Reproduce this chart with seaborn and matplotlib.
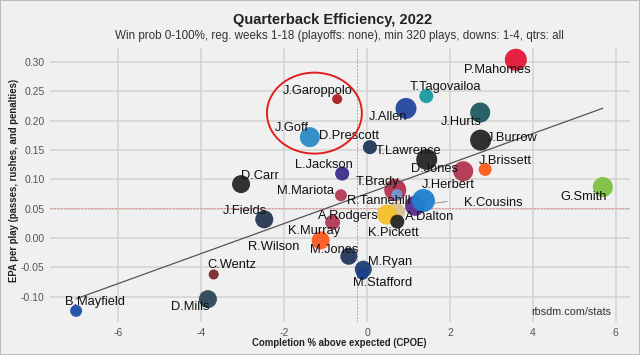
import numpy as np
import pandas as pd
import matplotlib
matplotlib.use("Agg")
import matplotlib.pyplot as plt
from matplotlib.patches import Ellipse
import seaborn as sns

# ---- data ----
players = ["P.Mahomes", "T.Tagovailoa", "J.Allen", "J.Hurts", "J.Burrow", "J.Garoppolo",
           "D.Prescott", "J.Goff", "T.Lawrence", "L.Jackson", "D.Jones", "T.Brady", "R.Tannehill",
           "K.Cousins", "J.Herbert", "M.Mariota", "A.Dalton", "A.Rodgers", "K.Pickett",
           "K.Murray", "R.Wilson", "M.Jones", "M.Ryan", "M.Stafford", "J.Brissett",
           "G.Smith", "D.Carr", "J.Fields", "C.Wentz", "D.Mills", "B.Mayfield"]
cpoe = [3.59, 1.43, 0.94, 2.73, 2.74, -0.72,
        0.07, -1.38, 1.44, -0.60, 2.32, 0.68, 0.72,
        1.16, 1.36, -0.63, 0.70, 0.48, 0.73,
        -0.83, -1.12, -0.44, -0.09, -0.11, 2.85,
        5.69, -3.04, -2.48, -3.70, -3.84, -7.02]
epa = [0.304, 0.242, 0.221, 0.214, 0.167, 0.237,
       0.155, 0.172, 0.134, 0.110, 0.114, 0.082, 0.074,
       0.055, 0.064, 0.073, 0.045, 0.040, 0.028,
       0.027, -0.004, -0.031, -0.053, -0.061, 0.117,
       0.087, 0.092, 0.032, -0.062, -0.104, -0.124]
plays = [752, 436, 704, 660, 704, 330,
         436, 660, 704, 436, 660, 752, 353,
         660, 800, 378, 576, 660, 436,
         467, 576, 537, 537, 378, 405,
         660, 576, 576, 330, 576, 378]
team_colors = ["#E31837", "#1A9BA3", "#2347A0", "#1E5A60", "#262626", "#B01E22",
               "#22395A", "#2B8AC6", "#262626", "#3E2D8A", "#B23550", "#B5304E", "#6E9AD8",
               "#5B2C8F", "#1F7FD0", "#B23A55", "#D9C08E", "#F5C02A", "#262626",
               "#B23A55", "#FB5A1E", "#22395A", "#1E3F75", "#1C3F8F", "#FF5A1A",
               "#7CC142", "#262626", "#253650", "#7A2A2A", "#2C4658", "#1E4FA8"]
x_ticks = [-6, -4, -2, 0, 2, 4, 6]
y_ticks = [-0.10, -0.05, 0.00, 0.05, 0.10, 0.15, 0.20, 0.25, 0.30]
mean_cpoe = -0.25
mean_epa = 0.051

# label offsets from each point, in pixels (right, down)
label_offsets = {
    "P.Mahomes": (-19, 10), "T.Tagovailoa": (19, -9), "J.Allen": (-18, 9), "J.Hurts": (-19, 9),
    "J.Burrow": (32, -2), "J.Garoppolo": (-19, -8), "D.Prescott": (-21, -11), "J.Goff": (-18, -9),
    "T.Lawrence": (-18, -8), "L.Jackson": (-18, -9), "D.Jones": (-29, -2), "T.Brady": (-18, -8),
    "R.Tannehill": (-18, 6), "K.Cousins": (78, -3), "J.Herbert": (25, -16), "M.Mariota": (-35, -4),
    "A.Dalton": (34, 5), "A.Rodgers": (-39, 1), "K.Pickett": (-4, 11), "K.Murray": (-19, 9),
    "R.Wilson": (-47, 7), "M.Jones": (-15, -6), "M.Ryan": (27, -7), "M.Stafford": (20, 9),
    "J.Brissett": (20, -8), "G.Smith": (-19, 10), "D.Carr": (19, -8), "J.Fields": (-19, -8),
    "C.Wentz": (18, -9), "D.Mills": (-18, 8), "B.Mayfield": (19, -9),
}

df = pd.DataFrame({"player": players, "cpoe": cpoe, "epa": epa, "plays": plays})
palette = dict(zip(players, team_colors))

FONT = ["Liberation Sans", "DejaVu Sans"]
sns.set_style("white")
plt.rcParams["font.family"] = FONT
BG = "#F0F0F0"

fig = plt.figure(figsize=(6.4, 3.55), dpi=100, facecolor=BG)
ax = fig.add_axes([50 / 640, 1 - 322 / 355, 580 / 640, 274 / 355])
ax.set_facecolor(BG)

ax.set_xlim(-7.65, 6.345)
ax.set_ylim(-0.143, 0.324)
ax.set_xticks(x_ticks)
ax.set_yticks(y_ticks)
ax.set_xticklabels([f"{v:d}" for v in x_ticks])
ax.set_yticklabels([f"{v:.2f}" for v in y_ticks])
ax.grid(True, color="#D2D2D2", lw=1.1, zorder=0)
ax.set_axisbelow(True)
for s in ax.spines.values():
    s.set_visible(False)
ax.tick_params(length=0, labelsize=7.5, labelcolor="#555555", pad=4)

ax.axvline(mean_cpoe, color="#EC8A88", lw=0.7, ls=(0, (2, 1.5)), zorder=1)
ax.axhline(mean_epa, color="#EC8A88", lw=0.7, ls=(0, (2, 1.5)), zorder=1)

sns.scatterplot(data=df, x="cpoe", y="epa", hue="player", palette=palette,
                size="plays", sizes=(52, 274), size_norm=(330, 800),
                legend=False, edgecolor="none", alpha=0.95, ax=ax, zorder=3)

sns.regplot(data=df, x="cpoe", y="epa", scatter=False, ci=None, ax=ax,
            color="#555555", line_kws={"lw": 0.9, "zorder": 4})

for p, xv, yv in zip(players, cpoe, epa):
    dx, dy = label_offsets[p]
    ax.annotate(p, (xv, yv), xytext=(dx * 0.72, -dy * 0.72), textcoords="offset points",
                ha="center", va="center", fontsize=9.3, color="#111111", zorder=5)
    if p == "K.Cousins":
        ax.annotate("", (xv, yv), xytext=(dx * 0.72 - 33, -dy * 0.72 + 1), textcoords="offset points",
                    arrowprops=dict(arrowstyle="-", color="#888888", lw=0.6, shrinkA=0, shrinkB=14),
                    zorder=2)

ax.add_patch(Ellipse((-1.27, 0.213), 2.29, 0.138, fill=False, edgecolor="#E0201E", lw=1.4, zorder=6))

ax.set_xlabel("Completion % above expected (CPOE)", fontsize=6.9, fontweight="bold",
              color="#222222")
ax.set_ylabel("EPA per play (passes, rushes, and penalties)", fontsize=6.9, fontweight="bold",
              color="#222222")
ax.xaxis.set_label_coords(0.498, -0.060)
ax.yaxis.set_label_coords(-0.053, 0.518)

ax.text(0.968, 0.035, "rbsdm.com/stats", transform=ax.transAxes, ha="right", va="center",
        fontsize=7.8, color="#333333")

fig.text(333 / 640, 1 - 20 / 355, "Quarterback Efficiency, 2022", ha="center", va="center",
         fontsize=10.5, fontweight="bold", color="#222222")
fig.text(339 / 640, 1 - 36 / 355,
         "Win prob 0-100%, reg. weeks 1-18 (playoffs: none), min 320 plays, downs: 1-4, qtrs: all",
         ha="center", va="center", fontsize=8.4, color="#333333")

fig.patch.set_edgecolor("#BBBBBB")
fig.patch.set_linewidth(1.2)

fig.savefig("out.png", dpi=100, facecolor=BG, edgecolor=fig.get_edgecolor())
